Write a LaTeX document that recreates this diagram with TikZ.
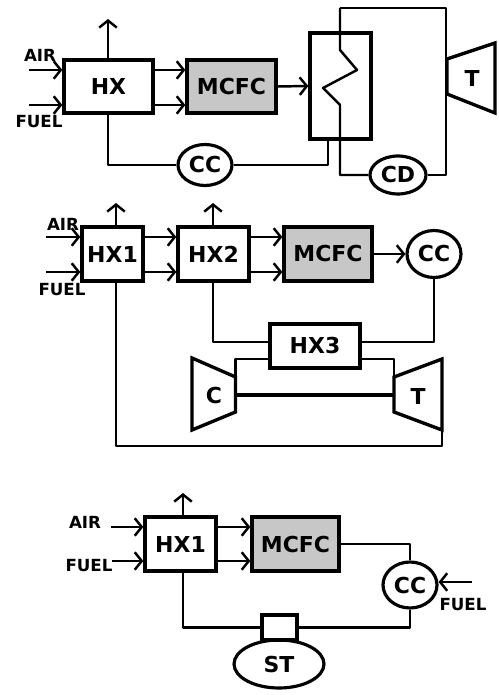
\documentclass[tikz,border=0pt]{standalone}
\usepackage{fontspec}
\setmainfont{DejaVu Sans}
\usetikzlibrary{arrows.meta,shapes.geometric}
\definecolor{cellgrey}{gray}{0.78}
\tikzset{
    block/.style={
        rectangle,
        draw,
        line width=1.9pt,
        inner sep=0pt,
        font=\bfseries\fontsize{12.5}{12.5}\selectfont
    },
    cell/.style={
        block,
        fill=cellgrey
    },
    burner/.style={
        ellipse,
        draw,
        line width=1.8pt,
        inner sep=0pt,
        minimum width=1.08cm,
        minimum height=0.88cm,
        font=\bfseries\fontsize{12.5}{12.5}\selectfont
    },
    stream/.style={
        font=\bfseries\fontsize{9.5}{9.5}\selectfont,
        inner sep=0pt
    },
    machine/.style={
        line width=1.9pt,
        line join=miter
    },
    machlabel/.style={
        inner sep=0pt,
        font=\bfseries\fontsize{12.5}{12.5}\selectfont
    },
    pipe/.style={
        line width=1.4pt,
        line join=round
    },
    >={Straight Barb[length=4pt,width=10pt,line width=1.4pt]}
}

\begin{document}
\begin{tikzpicture}[x=0.02cm,y=-0.02cm]
\useasboundingbox (0,0) rectangle (499,695);
% first plant
\node[block,minimum width=1.78cm,minimum height=1.06cm] (hx) at (108.5,86.5) {HX};
\node[cell,minimum width=1.78cm,minimum height=1.06cm] (mcfcA) at (231.5,86.5) {MCFC};
\node[draw,line width=1.9pt,minimum width=1.22cm,minimum height=2.12cm,inner sep=0pt] (recup) at (340.5,86) {};
\node[burner,minimum height=0.82cm] (ccA) at (205,165) {CC};
\node[burner,minimum width=1.12cm,minimum height=0.76cm] (cd) at (398,175) {CD};
\node[stream] (airA) at (40,55) {AIR};
\node[stream] (fuelA) at (39,122) {FUEL};
\node[machlabel] (tA) at (472,79) {T};
\draw[machine] (447,59) coordinate (tAin) -- (495,43) -- (495,113) -- (447,94) -- cycle;
\coordinate (airAin) at (29,70);
\coordinate (fuelAin) at (29,105);
\coordinate (exhA) at (108,19);
\coordinate (topA) at (340,8);
\coordinate (topB) at (446,8);
\draw[->,pipe] (airAin) -- (airAin -| hx.west);
\draw[->,pipe] (fuelAin) -- (fuelAin -| hx.west);
\draw[->,pipe] (exhA |- hx.north) -- (exhA);
\draw[->,pipe] (airAin -| hx.east) -- (airAin -| mcfcA.west);
\draw[->,pipe] (fuelAin -| hx.east) -- (fuelAin -| mcfcA.west);
\draw[->,pipe] (mcfcA.east) -- (recup.west);
\draw[pipe] (exhA |- hx.south) |- (ccA.west);
\draw[pipe] (ccA.east) -| (328,139);
\draw[pipe] (topA) -- (340,50) -- (357,70) -- (323,88) -- (340,105) |- (cd.west);
\draw[pipe] (cd.east) -| (topB) -- (topA);

% second plant
\node[block,minimum width=1.22cm,minimum height=1.08cm] (hxOne) at (112.5,254) {HX1};
\node[block,minimum width=1.42cm,minimum height=1.08cm] (hxTwo) at (213.5,254) {HX2};
\node[cell,minimum width=1.76cm,minimum height=1.08cm] (mcfcB) at (328,254) {MCFC};
\node[burner,minimum height=0.94cm] (ccB) at (434,254) {CC};
\node[block,minimum width=1.8cm,minimum height=0.88cm] (hxThree) at (315,346) {HX3};
\node[stream] (airB) at (63,224) {AIR};
\node[stream] (fuelB) at (62,290) {FUEL};
\node[machlabel] (comp) at (214,396) {C};
\node[machlabel] (tB) at (418,396) {T};
\draw[machine] (192,358) -- (235.5,377) -- (235.5,412) -- (192,430) -- cycle;
\draw[machine] (394,377) -- (442,359) -- (442,430) -- (394,412) -- cycle;
\coordinate (airBin) at (46,237);
\coordinate (fuelBin) at (46,272);
\coordinate (exhB) at (116,203);
\coordinate (exhC) at (213,203);
\coordinate (compOut) at (235.5,377);
\coordinate (turbIn) at (394,377);
\coordinate (turbOut) at (442,430);
\coordinate (shaftA) at (235.5,395);
\coordinate (shaftB) at (394,395);
\draw[->,pipe] (airBin) -- (airBin -| hxOne.west);
\draw[->,pipe] (fuelBin) -- (fuelBin -| hxOne.west);
\draw[->,pipe] (exhB |- hxOne.north) -- (exhB);
\draw[->,pipe] (exhC |- hxTwo.north) -- (exhC);
\draw[->,pipe] (airBin -| hxOne.east) -- (airBin -| hxTwo.west);
\draw[->,pipe] (fuelBin -| hxOne.east) -- (fuelBin -| hxTwo.west);
\draw[->,pipe] (airBin -| hxTwo.east) -- (airBin -| mcfcB.west);
\draw[->,pipe] (fuelBin -| hxTwo.east) -- (fuelBin -| mcfcB.west);
\draw[->,pipe] (mcfcB.east) -- (ccB.west);
\draw[pipe] (exhC |- hxTwo.south) |- (hxThree.west |- 0,342);
\draw[pipe] (hxThree.east |- 0,342) -| (ccB.south);
\draw[pipe] (compOut) |- (hxThree.west |- 0,359);
\draw[pipe] (hxThree.east |- 0,359) -| (turbIn);
\draw[pipe,line width=1.8pt] (shaftA) -- (shaftB);
\draw[pipe] (exhB |- hxOne.south) |- (442,446) -- (turbOut);

% third plant
\node[block,minimum width=1.42cm,minimum height=1.08cm] (hxFour) at (180.5,544) {HX1};
\node[cell,minimum width=1.74cm,minimum height=1.08cm] (mcfcC) at (295.5,544) {MCFC};
\node[burner,minimum height=0.92cm] (ccC) at (410,585) {CC};
\node[draw,line width=1.9pt,minimum width=0.7cm,minimum height=0.5cm,inner sep=0pt] (gland) at (279.5,627.5) {};
\node[burner,minimum width=1.8cm,minimum height=0.96cm] (st) at (279,664) {ST};
\node[stream] (airC) at (85,522) {AIR};
\node[stream] (fuelC) at (89,566) {FUEL};
\node[stream] (fuelD) at (463,605) {FUEL};
\coordinate (airCin) at (111,527);
\coordinate (fuelCin) at (112,561);
\coordinate (fuelDin) at (472,582);
\coordinate (exhD) at (183,493);
\draw[->,pipe] (airCin) -- (airCin -| hxFour.west);
\draw[->,pipe] (fuelCin) -- (fuelCin -| hxFour.west);
\draw[->,pipe] (exhD |- hxFour.north) -- (exhD);
\draw[->,pipe] (airCin -| hxFour.east) -- (airCin -| mcfcC.west);
\draw[->,pipe] (fuelCin -| hxFour.east) -- (fuelCin -| mcfcC.west);
\draw[->,pipe] (fuelDin) -- (fuelDin -| ccC.east);
\draw[pipe] (mcfcC.east) -| (ccC.north);
\draw[pipe] (ccC.south) |- (gland.east);
\draw[pipe] (exhD |- hxFour.south) |- (gland.west);
\end{tikzpicture}
\end{document}
